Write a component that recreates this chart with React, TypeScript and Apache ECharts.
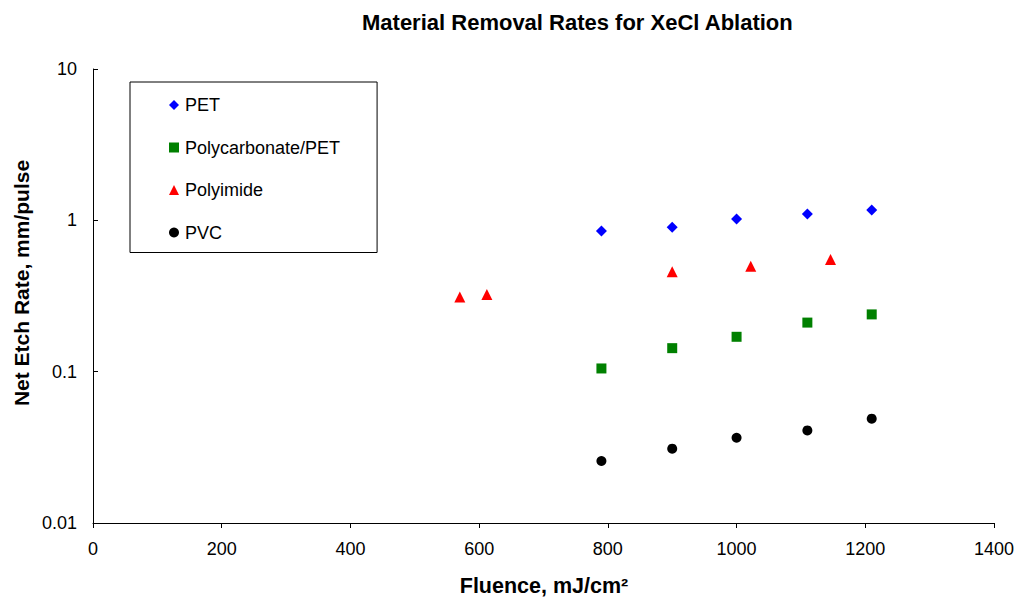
import React, { useEffect, useRef } from "react";
import * as echarts from "echarts";

const titleText = "Material Removal Rates for XeCl Ablation";
const xAxisTitle = "Fluence, mJ/cm²";
const yAxisTitle = "Net Etch Rate, mm/pulse";

const petFluence = [790, 900, 1000, 1110, 1210];
const petRate = [0.85, 0.9, 1.02, 1.1, 1.17];

const pcFluence = [790, 900, 1000, 1110, 1210];
const pcRate = [0.105, 0.143, 0.17, 0.211, 0.239];

const piFluence = [570, 612, 900, 1022, 1146];
const piRate = [0.311, 0.323, 0.457, 0.497, 0.552];

const pvcFluence = [790, 900, 1000, 1110, 1210];
const pvcRate = [0.0257, 0.031, 0.0366, 0.0409, 0.0489];

const seriesNames = ["PET", "Polycarbonate/PET", "Polyimide", "PVC"];
const seriesColors = ["#0000FF", "#008000", "#FF0000", "#000000"];
const seriesSymbols = ["diamond", "rect", "triangle", "circle"];
const seriesSizes = [11, 10, 11, 10];

const xTicks = [0, 200, 400, 600, 800, 1000, 1200, 1400];
const yTicks = [0.01, 0.1, 1, 10];

const FONT = "'Liberation Sans', Arial, Helvetica, sans-serif";

function pairs(xs: number[], ys: number[]) {
  return xs.map((x, i) => [x, ys[i]]);
}

export default function App() {
  const ref = useRef<HTMLDivElement>(null);
  useEffect(() => {
    if (!ref.current) return;
    const chart = echarts.init(ref.current, undefined, { renderer: "svg" });
    const datasets = [
      pairs(petFluence, petRate),
      pairs(pcFluence, pcRate),
      pairs(piFluence, piRate),
      pairs(pvcFluence, pvcRate),
    ];
    chart.setOption({
      animation: false,
      backgroundColor: "#ffffff",
      textStyle: { fontFamily: FONT },
      title: {
        text: titleText,
        left: 357,
        top: 6,
        textStyle: { fontFamily: FONT, fontSize: 22, fontWeight: "bold", color: "#000" },
      },
      graphic: [
        {
          type: "text",
          x: 544,
          y: 586,
          style: {
            text: xAxisTitle,
            fontFamily: FONT,
            fontSize: 21.5,
            fontWeight: "bold",
            fill: "#000",
            align: "center",
            verticalAlign: "middle",
          },
        },
        {
          type: "text",
          x: 21,
          y: 283,
          rotation: Math.PI / 2,
          style: {
            text: yAxisTitle,
            fontFamily: FONT,
            fontSize: 21,
            fontWeight: "bold",
            fill: "#000",
            align: "center",
            verticalAlign: "middle",
          },
        },
      ],
      legend: {
        orient: "vertical",
        left: 130,
        top: 82,
        padding: [14, 37, 11, 39],
        itemGap: 24.5,
        itemWidth: 10,
        itemHeight: 10,
        borderColor: "#000",
        borderWidth: 1,
        backgroundColor: "#fff",
        textStyle: { fontFamily: FONT, fontSize: 18, color: "#000", padding: [0, 0, 0, 1] },
        data: seriesNames.map((n, i) => ({ name: n, icon: seriesSymbols[i] })),
      },
      grid: { left: 93, top: 69, right: 24, bottom: 78 },
      xAxis: {
        type: "value",
        min: 0,
        max: 1400,
        interval: 200,
        axisLine: { show: true, lineStyle: { color: "#000", width: 1 } },
        axisTick: { show: true, inside: false, length: 5, lineStyle: { color: "#000" } },
        axisLabel: {
          fontFamily: FONT,
          fontSize: 18,
          color: "#000",
          margin: 17,
          formatter: (v: number) => (xTicks.includes(v) ? String(v) : ""),
        },
        splitLine: { show: false },
      },
      yAxis: {
        type: "log",
        logBase: 10,
        min: 0.01,
        max: 10,
        axisLine: { show: true, lineStyle: { color: "#000", width: 1 } },
        axisTick: { show: true, inside: true, length: 5, lineStyle: { color: "#000" } },
        axisLabel: {
          fontFamily: FONT,
          fontSize: 18,
          color: "#000",
          margin: 16,
          formatter: (v: number) => {
            const t = yTicks.find((y) => Math.abs(y - v) / y < 1e-6);
            return t === undefined ? "" : String(t);
          },
        },
        splitLine: { show: false },
        minorTick: { show: false },
      },
      series: seriesNames.map((name, i) => ({
        name,
        type: "scatter",
        symbol: seriesSymbols[i],
        symbolSize: seriesSizes[i],
        itemStyle: { color: seriesColors[i], opacity: 1 },
        data: datasets[i],
      })),
    });
    return () => chart.dispose();
  }, []);
  return (
    <div
      ref={ref}
      style={{ position: "fixed", left: 0, top: 0, width: 1018, height: 601 }}
    />
  );
}
